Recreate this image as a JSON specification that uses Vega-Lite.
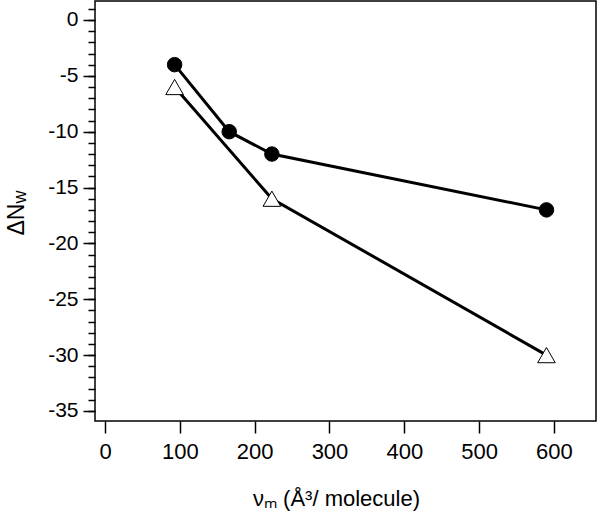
{
  "$schema": "https://vega.github.io/schema/vega-lite/v6.json",
  "width": 501,
  "height": 420,
  "autosize": {"type": "none"},
  "padding": {"left": 95, "top": 1, "right": 4, "bottom": 93},
  "background": "white",
  "data": {
    "values": [
      {"v": 93, "dn": -4, "series": "circle"},
      {"v": 166, "dn": -10, "series": "circle"},
      {"v": 223, "dn": -12, "series": "circle"},
      {"v": 590, "dn": -17, "series": "circle"},
      {"v": 93, "dn": -6, "series": "triangle"},
      {"v": 223, "dn": -16, "series": "triangle"},
      {"v": 590, "dn": -30, "series": "triangle"}
    ]
  },
  "encoding": {
    "x": {
      "field": "v",
      "type": "quantitative",
      "scale": {"domain": [-13.4, 656.2], "nice": false, "zero": false},
      "axis": {
        "values": [0, 100, 200, 300, 400, 500, 600],
        "tickSize": 12,
        "tickWidth": 1.5,
        "labelFontSize": 22,
        "labelPadding": 8,
        "title": "νₘ (Å³/ molecule)",
        "titleFontSize": 22,
        "titleX": 241,
        "titleY": 84,
        "titleAlign": "center",
        "titleBaseline": "alphabetic"
      }
    }
  },
  "layer": [
    {
      "mark": {"type": "line", "color": "black", "strokeWidth": 3},
      "encoding": {
        "y": {
          "field": "dn",
          "type": "quantitative",
          "scale": {"domain": [-35.9, 1.7], "nice": false, "zero": false},
          "axis": {
            "orient": "left",
            "values": [0, -5, -10, -15, -20, -25, -30, -35],
            "labelExpr": "toString(datum.value)",
            "tickSize": 12,
            "tickWidth": 1.5,
            "labelFontSize": 21,
            "labelPadding": 5,
            "title": "ΔN",
            "titleFontSize": 23,
            "titleAngle": 270,
            "titleX": -72,
            "titleY": 234,
            "titleAlign": "left",
            "titleBaseline": "alphabetic"
          }
        },
        "detail": {"field": "series", "type": "nominal"}
      }
    },
    {
      "mark": {"type": "point", "filled": false, "opacity": 1, "stroke": "black", "strokeWidth": 1},
      "encoding": {
        "y": {
          "field": "dn",
          "type": "quantitative",
          "scale": {"domain": [-35.9, 1.7], "nice": false, "zero": false},
          "axis": {
            "orient": "left",
            "values": [1, 0, -1, -2, -3, -4, -5, -6, -7, -8, -9, -10, -11, -12, -13, -14, -15, -16, -17, -18, -19, -20, -21, -22, -23, -24, -25, -26, -27, -28, -29, -30, -31, -32, -33, -34, -35],
            "tickSize": 7,
            "tickWidth": 1.5,
            "labels": false,
            "title": "w",
            "titleFontSize": 18,
            "titleAngle": 270,
            "titleX": -70,
            "titleY": 202,
            "titleAlign": "left",
            "titleBaseline": "alphabetic"
          }
        },
        "shape": {
          "field": "series",
          "type": "nominal",
          "scale": {"domain": ["circle", "triangle"], "range": ["circle", "triangle-up"]},
          "legend": null
        },
        "fill": {
          "field": "series",
          "type": "nominal",
          "scale": {"domain": ["circle", "triangle"], "range": ["black", "white"]},
          "legend": null
        },
        "size": {
          "field": "series",
          "type": "nominal",
          "scale": {"domain": ["circle", "triangle"], "range": [210, 310]},
          "legend": null
        }
      }
    }
  ],
  "resolve": {"axis": {"y": "independent"}},
  "config": {
    "font": "Liberation Sans",
    "view": {"stroke": "black", "strokeWidth": 1.5},
    "axis": {
      "domain": false,
      "grid": false,
      "tickColor": "black",
      "labelColor": "black",
      "titleColor": "black",
      "titleFontWeight": "normal",
      "labelFont": "Liberation Sans",
      "titleFont": "Liberation Sans"
    }
  }
}
